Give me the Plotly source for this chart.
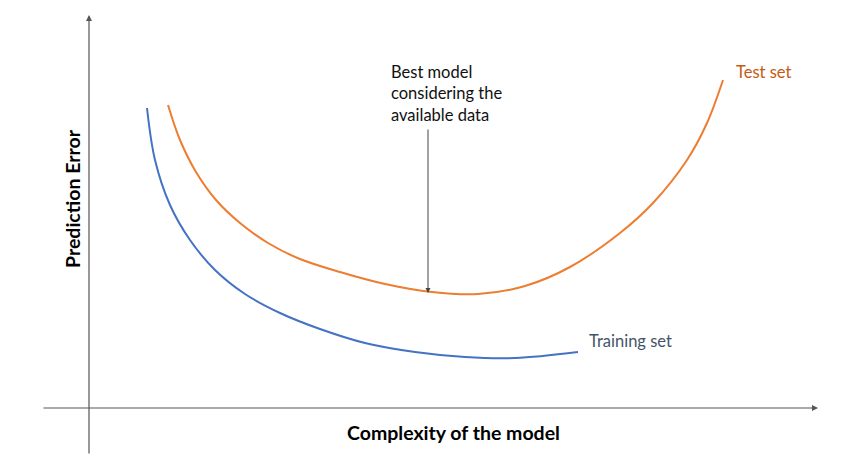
import plotly.graph_objects as go

# Data (x = model complexity, y = prediction error, arbitrary units)
train_x = [147, 155, 170, 190, 215, 245, 280, 320, 365, 415, 465, 515, 578]
train_err = [365, 313, 268, 233, 203, 179, 160, 144, 130, 121, 116, 115, 121]

test_x = [168, 180, 196, 216, 240, 268, 300, 340, 385, 432, 478, 525, 570, 620, 653, 687, 707, 723]
test_err = [368, 333, 301, 273, 250, 230, 214, 201, 189, 181, 179, 187, 206, 240, 270, 313, 350, 393]

x_label = "Complexity of the model"
y_label = "Prediction Error"
note_text = "Best model<br>considering the<br>available data"
best_x = 428
best_err = 180

BLUE = "#4472C4"
ORANGE = "#ED7D31"
FONT = "Lato"

fig = go.Figure()
fig.add_trace(go.Scatter(x=train_x, y=train_err, mode="lines",
                         line=dict(color=BLUE, width=2, shape="spline", smoothing=1.0),
                         name="Training set", hoverinfo="skip"))
fig.add_trace(go.Scatter(x=test_x, y=test_err, mode="lines",
                         line=dict(color=ORANGE, width=2, shape="spline", smoothing=1.0),
                         name="Test set", hoverinfo="skip"))

ann = []
# axis arrows
ann.append(dict(x=818, y=65, ax=42, ay=65, xref="x", yref="y", axref="x", ayref="y", text="",
                showarrow=True, arrowhead=2, arrowsize=1, arrowwidth=1.2, arrowcolor="#555555"))
ann.append(dict(x=89, y=458, ax=89, ay=18, xref="x", yref="y", axref="x", ayref="y", text="",
                showarrow=True, arrowhead=2, arrowsize=1, arrowwidth=1.2, arrowcolor="#555555"))
# best model arrow
ann.append(dict(x=best_x, y=best_err, ax=best_x, ay=345, xref="x", yref="y", axref="x", ayref="y", text="",
                showarrow=True, arrowhead=2, arrowsize=1, arrowwidth=1, arrowcolor="#444444"))
ann.append(dict(x=389, y=413, xref="x", yref="y", text=note_text, showarrow=False, xanchor="left", yanchor="top",
                align="left", font=dict(family=FONT, size=16.5, color="#111111")))
ann.append(dict(x=734, y=401, xref="x", yref="y", text="Test set", showarrow=False, xanchor="left", yanchor="middle",
                font=dict(family=FONT, size=16.5, color="#C55A11")))
ann.append(dict(x=587, y=132, xref="x", yref="y", text="Training set", showarrow=False, xanchor="left", yanchor="middle",
                font=dict(family=FONT, size=16.5, color="#44546A")))
ann.append(dict(x=453, y=41, xref="x", yref="y", text="<b>" + x_label + "</b>", showarrow=False,
                xanchor="center", yanchor="middle", font=dict(family=FONT, size=19.5, color="#000000")))
ann.append(dict(x=72, y=274, xref="x", yref="y", text="<b>" + y_label + "</b>", showarrow=False, textangle=-90,
                xanchor="center", yanchor="middle", font=dict(family=FONT, size=19.5, color="#000000")))

fig.update_layout(
    width=850, height=473,
    margin=dict(l=0, r=0, t=0, b=0),
    paper_bgcolor="white", plot_bgcolor="white",
    showlegend=False,
    xaxis=dict(range=[0, 850], visible=False, fixedrange=True),
    yaxis=dict(range=[0, 473], visible=False, fixedrange=True),
    annotations=ann,
)

fig.write_html("out.html", config={"displayModeBar": False})
